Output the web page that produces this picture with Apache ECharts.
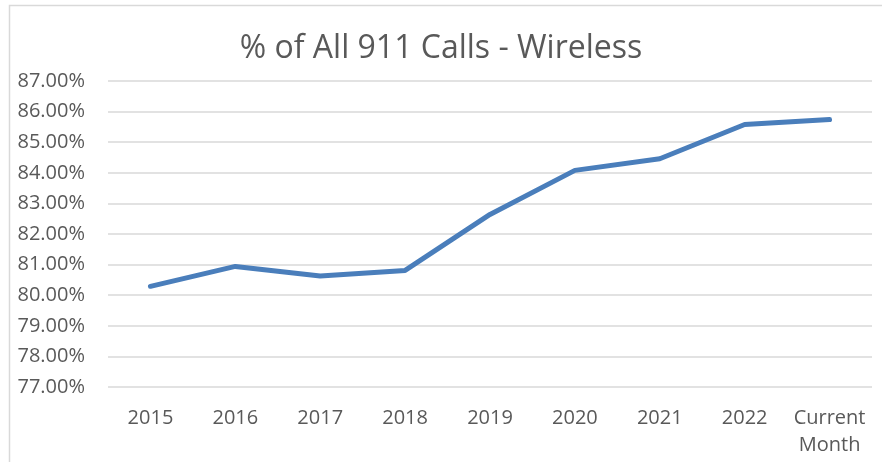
<!DOCTYPE html>
<html>
<head>
<meta charset="utf-8">
<script src="https://cdn.jsdelivr.net/npm/echarts@6/dist/echarts.min.js"></script>
<style>
  html, body { margin: 0; padding: 0; background: #fff; }
  #main { width: 882px; height: 462px; }
</style>
</head>
<body>
<div id="main"></div>
<script>
// data
var categories = ['2015', '2016', '2017', '2018', '2019', '2020', '2021', '2022', 'Current\nMonth'];
var wireless = [80.29, 80.94, 80.63, 80.81, 82.64, 84.08, 84.46, 85.58, 85.74];
var yMin = 77, yMax = 87, yStep = 1;

var myChart = echarts.init(document.getElementById('main'));

var option = {
    animation: false,
    textStyle: { fontFamily: 'Open Sans, Noto Sans, sans-serif' },
    title: {
        text: '% of All 911 Calls - Wireless',
        left: 'center',
        top: 28,
        textStyle: { fontSize: 32, fontWeight: 'normal', color: '#595959' }
    },
    // outer chart border (runs off the right/bottom edge in the reference)
    graphic: [{
        type: 'rect',
        shape: { x: 9.5, y: 5.5, width: 900, height: 500 },
        style: { fill: 'none', stroke: '#d9d9d9', lineWidth: 1.5 },
        silent: true
    }],
    grid: { left: 108, right: 10, top: 81, bottom: 75, containLabel: false },
    xAxis: {
        type: 'category',
        data: categories,
        boundaryGap: true,
        axisLine: { show: false },
        axisTick: { show: false },
        axisLabel: {
            color: '#595959', fontSize: 20, margin: 18, lineHeight: 27,
            interval: 0
        }
    },
    yAxis: {
        type: 'value',
        min: yMin,
        max: yMax,
        interval: yStep,
        axisLine: { show: false },
        axisTick: { show: false },
        splitLine: { lineStyle: { color: '#d9d9d9', width: 1.5 } },
        axisLabel: {
            color: '#595959', fontSize: 20, margin: 23,
            formatter: function (v) { return v.toFixed(2) + '%'; }
        }
    },
    series: [{
        name: 'Wireless',
        type: 'line',
        data: wireless,
        symbol: 'none',
        lineStyle: { color: '#4a7ebb', width: 5, cap: 'round', join: 'round' }
    }]
};

myChart.setOption(option);
</script>
</body>
</html>
